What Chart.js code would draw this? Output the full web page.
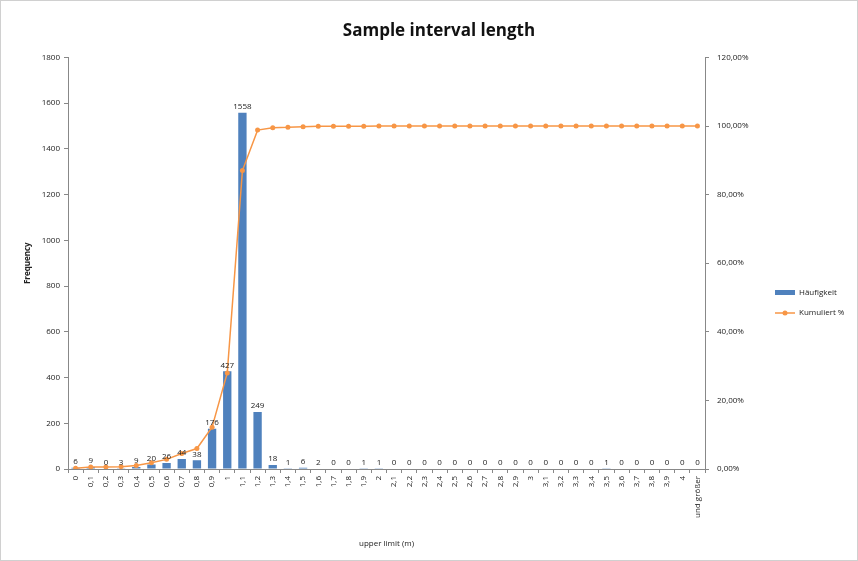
<!DOCTYPE html>
<html>
<head>
<meta charset="utf-8">
<script src="https://cdn.jsdelivr.net/npm/chart.js@4"></script>
<style>
  body { margin: 0; background: #fff; }
  #wrap { width: 858px; height: 561px; }
</style>
</head>
<body>
<div id="wrap"><canvas id="intervalChart" width="858" height="561"></canvas></div>
<script>
// Bins (upper limit in m) and counts
const upperLimits = ["0", "0,1", "0,2", "0,3", "0,4", "0,5", "0,6", "0,7", "0,8", "0,9",
    "1", "1,1", "1,2", "1,3", "1,4", "1,5", "1,6", "1,7", "1,8", "1,9",
    "2", "2,1", "2,2", "2,3", "2,4", "2,5", "2,6", "2,7", "2,8", "2,9",
    "3", "3,1", "3,2", "3,3", "3,4", "3,5", "3,6", "3,7", "3,8", "3,9",
    "4", "und größer"];
const frequency = [6, 9, 0, 3, 9, 20, 26, 44, 38, 176,
    427, 1558, 249, 18, 1, 6, 2, 0, 0, 1,
    1, 0, 0, 0, 0, 0, 0, 0, 0, 0,
    0, 0, 0, 0, 0, 1, 0, 0, 0, 0,
    0, 0];
// cumulative percent
const cumulativePct = [0.23, 0.58, 0.58, 0.69, 1.04, 1.81, 2.81, 4.51, 5.97, 12.2,
    28.0, 87.0, 98.8, 99.5, 99.6, 99.8, 99.9, 99.9, 99.9, 99.9,
    100, 100, 100, 100, 100, 100, 100, 100, 100, 100,
    100, 100, 100, 100, 100, 100, 100, 100, 100, 100,
    100, 100];
const seriesNames = ["Häufigkeit", "Kumuliert %"];

const barColor = "#4F81BD";
const lineColor = "#F79646";
const fontFamily = "'Open Sans', 'Liberation Sans', sans-serif";

// value labels above the bars
const barLabels = {
    id: "barLabels",
    afterDatasetsDraw(chart) {
        const ctx = chart.ctx;
        const meta = chart.getDatasetMeta(0);
        ctx.save();
        ctx.font = "8px " + fontFamily;
        ctx.fillStyle = "#222";
        ctx.textAlign = "center";
        ctx.textBaseline = "bottom";
        meta.data.forEach((bar, i) => {
            ctx.fillText(String(frequency[i]), bar.x, bar.y - 2);
        });
        ctx.restore();
    },
};

// Excel-style legend on the right plus outer frame
const sideLegend = {
    id: "sideLegend",
    afterDraw(chart) {
        const ctx = chart.ctx;
        ctx.save();
        ctx.strokeStyle = "#d0d0d0";
        ctx.lineWidth = 1;
        ctx.strokeRect(0.5, 0.5, chart.width - 1, chart.height - 1);

        ctx.font = "8px " + fontFamily;
        ctx.textBaseline = "middle";
        // bar entry
        ctx.fillStyle = barColor;
        ctx.fillRect(775, 290, 20, 5);
        ctx.fillStyle = "#222";
        ctx.fillText(seriesNames[0], 799, 293);
        // line entry
        ctx.strokeStyle = lineColor;
        ctx.lineWidth = 1.5;
        ctx.beginPath();
        ctx.moveTo(775, 313);
        ctx.lineTo(795, 313);
        ctx.stroke();
        ctx.fillStyle = lineColor;
        ctx.beginPath();
        ctx.arc(785, 313, 2.5, 0, Math.PI * 2);
        ctx.fill();
        ctx.fillStyle = "#222";
        ctx.fillText(seriesNames[1], 799, 313);
        ctx.restore();
    },
};

const ctx = document.getElementById("intervalChart").getContext("2d");
const intervalChart = new Chart(ctx, {
    data: {
        labels: upperLimits,
        datasets: [
            {
                type: "bar",
                label: seriesNames[0],
                data: frequency,
                backgroundColor: barColor,
                barPercentage: 0.55,
                categoryPercentage: 1,
                yAxisID: "y",
                order: 1,
            },
            {
                type: "line",
                label: seriesNames[1],
                data: cumulativePct,
                borderColor: lineColor,
                backgroundColor: lineColor,
                borderWidth: 1.5,
                pointRadius: 2.5,
                pointBackgroundColor: lineColor,
                pointBorderWidth: 0,
                tension: 0,
                yAxisID: "y1",
                order: 0,
            },
        ],
    },
    options: {
        responsive: false,
        animation: false,
        layout: { padding: { left: 20, right: 0, top: 0, bottom: 4 } },
        scales: {
            x: {
                offset: true,
                grid: {
                    offset: true,
                    drawOnChartArea: false,
                    tickLength: 4,
                    color: "#888",
                },
                border: { color: "#888" },
                ticks: {
                    autoSkip: false,
                    maxRotation: 90,
                    minRotation: 90,
                    font: { size: 8, family: fontFamily },
                    color: "#222",
                    padding: 3,
                },
                title: {
                    display: true,
                    text: "upper limit (m)",
                    font: { size: 8, family: fontFamily },
                    color: "#222",
                    padding: { top: 4, bottom: 8 },
                },
                afterFit: (scale) => { scale.height = 88; },
            },
            y: {
                position: "left",
                min: 0,
                max: 1800,
                grid: { drawOnChartArea: false, tickLength: 4, color: "#888" },
                border: { color: "#888" },
                ticks: {
                    stepSize: 200,
                    font: { size: 8, family: fontFamily },
                    color: "#222",
                    padding: 4,
                    callback: (v) => String(v),
                },
                title: {
                    display: true,
                    text: "Frequency",
                    font: { size: 8, weight: "bold", family: fontFamily },
                    color: "#222",
                    padding: { top: 3, bottom: 0 },
                },
                afterFit: (scale) => { scale.width = 48; },
            },
            y1: {
                position: "right",
                min: 0,
                max: 120,
                grid: { drawOnChartArea: false, tickLength: 4, color: "#888" },
                border: { color: "#888" },
                ticks: {
                    stepSize: 20,
                    font: { size: 8, family: fontFamily },
                    color: "#222",
                    padding: 8,
                    callback: (v) => v.toFixed(2).replace(".", ",") + "%",
                },
                afterFit: (scale) => { scale.width = 153; },
            },
        },
        plugins: {
            legend: { display: false },
            tooltip: { enabled: false },
            title: {
                display: true,
                text: "Sample interval length",
                font: { size: 17, weight: "bold", family: fontFamily },
                color: "#111",
                padding: { top: 21, bottom: 16 },
            },
        },
    },
    plugins: [barLabels, sideLegend],
});
</script>
</body>
</html>
